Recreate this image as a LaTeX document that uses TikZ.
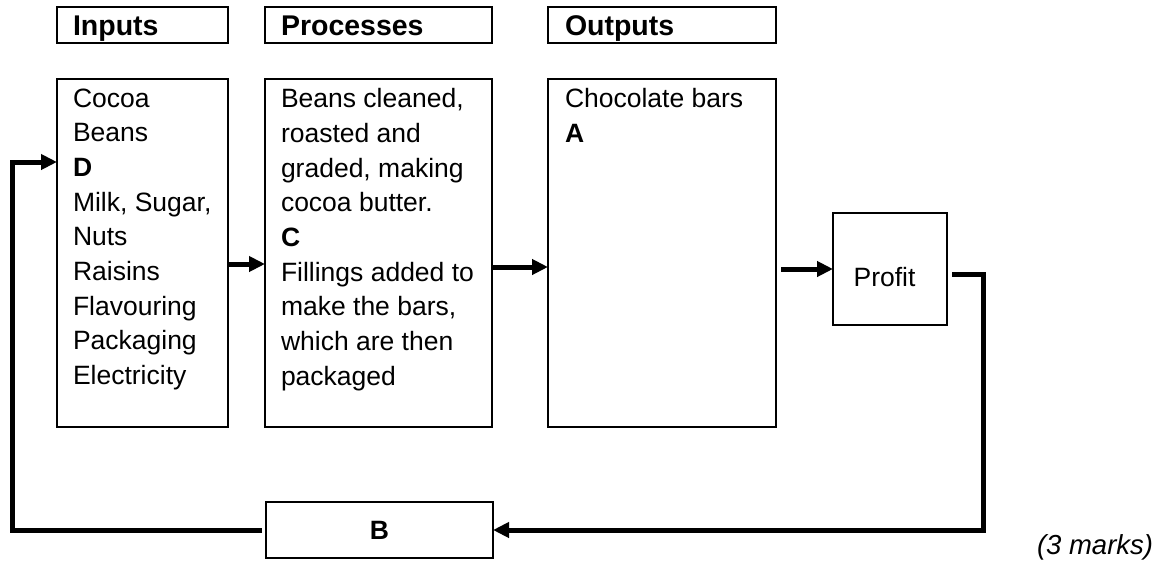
\documentclass[tikz,border=0pt]{standalone}
\usepackage{fontspec}
\setmainfont{Liberation Sans}
\usetikzlibrary{arrows.meta}
\newcommand\mainsz{\fontsize{26.5pt}{34.7pt}\selectfont}
\newcommand\hdrsz{\fontsize{28.5pt}{34pt}\selectfont}
\begin{document}
\begin{tikzpicture}[x=1pt,y=-1pt,
  every node/.style={font=\mainsz, inner sep=0pt, outer sep=0pt},
  boxnode/.style={draw, line width=2pt},
  hdr/.style={boxnode, minimum height=36pt},
  mainbox/.style={boxnode, minimum height=348pt},
  hdrtext/.style={anchor=base west, font=\hdrsz\bfseries},
  body/.style={anchor=north west, align=left},
  conn/.style={line width=5pt},
  arr/.style={conn, -{Triangle[length=16pt,width=15pt]}},
  note/.style={anchor=base west, font=\fontsize{27.5pt}{33pt}\selectfont\itshape}
]
\useasboundingbox (0,0) rectangle (1175,560);

% header boxes
\node[hdr, minimum width=171pt] (inh) at (142.5,25) {};
\node[hdr, minimum width=227pt] (proch) at (378.5,25) {};
\node[hdr, minimum width=228pt] (outh) at (662,25) {};
\node[hdrtext] (inht) at (73,35.5) {Inputs};
\node[hdrtext] (procht) at (281,35.5) {Processes};
\node[hdrtext] (outht) at (565,35.5) {Outputs};

% main boxes
\node[mainbox, minimum width=171pt] (inb) at (142.5,253) {};
\node[mainbox, minimum width=227pt] (procb) at (378.5,253) {};
\node[mainbox, minimum width=228pt] (outb) at (662,253) {};

\node[body] (inbt) at (73,88.5) {Cocoa\\Beans\\\textbf{D}\\Milk, Sugar,\\Nuts\\Raisins\\Flavouring\\Packaging\\Electricity};
\node[body] (procbt) at (281,88.5) {Beans cleaned,\\roasted and\\graded, making\\cocoa butter.\\\textbf{C}\\Fillings added to\\make the bars,\\which are then\\packaged};
\node[body] (outbt) at (565,88.5) {Chocolate bars\\\textbf{A}};

% profit and B
\node[boxnode, minimum width=114pt, minimum height=112pt] (profit) at (890,269) {};
\node (profitt) at (884.5,277) {Profit};
\node[boxnode, minimum width=227pt, minimum height=56pt, font=\mainsz\bfseries] (bbox) at (379.5,530) {B};

% forward arrows
\draw[arr] ([yshift=-11pt]inb.east) -- ([yshift=-11pt]procb.west);
\draw[arr] ([yshift=-14pt]procb.east) -- ([yshift=-14pt]outb.west);
\draw[arr] ([xshift=5pt,yshift=-16pt]outb.east) -- (profit.west);

% feedback loop
\coordinate (fr1) at (983,274);
\coordinate (fr2) at (983,530);
\coordinate (fl1) at (12,530);
\coordinate (fl2) at (12,162);
\draw[arr] ([xshift=5pt]profit.east |- fr1) -- (fr1) -- (fr2) -- (bbox.east);
\draw[arr] ([xshift=-4pt]bbox.west) -- (fl1) -- (fl2) -- (inb.west |- fl2);

\node[note] (marks) at (1037,554) {(3 marks)};
\end{tikzpicture}
\end{document}
